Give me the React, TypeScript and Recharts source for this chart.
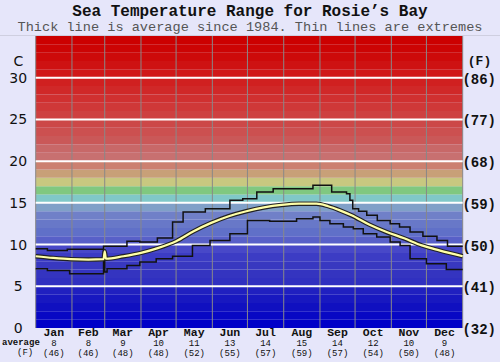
import React from "react";
import {
  ComposedChart,
  Line,
  XAxis,
  YAxis,
  ReferenceArea,
  ReferenceLine,
} from "recharts";

// ---- data ----
const monthNames = ["Jan", "Feb", "Mar", "Apr", "May", "Jun", "Jul", "Aug", "Sep", "Oct", "Nov", "Dec"];
const monthAvgC = [8, 8, 9, 10, 11, 13, 14, 15, 14, 12, 10, 9];
const monthAvgF = [46, 46, 48, 48, 52, 55, 57, 59, 57, 54, 50, 48];
const monthStartDay = [0, 31, 59, 90, 120, 151, 181, 212, 243, 273, 304, 334, 365];
const monthMidDay = [15.5, 45, 74.5, 105, 135.5, 166, 196.5, 227.5, 258, 288.5, 319, 349.5];

const yTicksC = [0, 5, 10, 15, 20, 25, 30];

const avgDay = [0, 15, 30, 45, 58, 59, 60, 75, 90, 105, 120, 135, 150, 165, 180, 195, 210, 225, 240, 250, 260, 270, 285, 300, 315, 330, 345, 365];
const avgTemp = [8.6, 8.4, 8.25, 8.2, 8.25, 9.2, 8.3, 8.6, 9.0, 9.6, 10.4, 11.6, 12.6, 13.4, 14.0, 14.45, 14.75, 14.9, 14.9, 14.6, 14.1, 13.5, 12.4, 11.5, 10.75, 9.9, 9.3, 8.6];

const maxDay = [0, 10, 27, 58, 78, 89, 104, 117, 126, 145, 166, 177, 189, 203, 237, 253, 265.7, 268.6, 271, 276, 283, 292, 303, 311, 320, 331, 343, 352, 365];
const maxTemp = [9.5, 9.3, 9.45, 9.8, 10.4, 10.3, 10.8, 12.7, 13.9, 14.3, 15.3, 15.5, 16.3, 16.7, 17.1, 16.3, 16.1, 15.3, 14.3, 14.0, 13.5, 12.9, 12.5, 12.1, 11.5, 11.0, 10.5, 9.8, 9.8];

const minDay = [0, 10, 29, 58, 59, 61, 78, 89, 103, 117, 134, 149, 166, 181, 200, 223, 237, 243, 251.5, 263, 271.5, 280, 291.5, 303, 311.5, 320, 334, 351, 365];
const minTemp = [7.1, 6.9, 6.5, 9.2, 6.7, 7.1, 7.5, 7.9, 8.3, 8.6, 9.9, 10.5, 11.3, 12.9, 12.8, 13.1, 13.3, 12.9, 12.5, 12.1, 11.9, 11.3, 10.9, 10.3, 9.9, 8.3, 7.7, 7.0, 7.0];

// background band colours, from 0-1 C up to 34-35 C
const bandColors = [
  "#0000c8", "#0808c4", "#1010c0", "#1818c0", "#2020c0",
  "#3030c0", "#3434c0", "#3838c0", "#3c3cc4", "#4848c8",
  "#5860c8", "#6070c8", "#6878c8", "#7080c8", "#80a0c8",
  "#80c8c8", "#80c880", "#c8c880", "#c8a078", "#cc8070",
  "#c87070", "#c86868", "#ca5858", "#cc5050", "#cc4848",
  "#ce4040", "#cf3838", "#d03030", "#d02828", "#d02020",
  "#d01818", "#ce1212", "#cd0a0a", "#cc0404", "#cc0000",
];

const avgData = avgDay.map((d, i) => ({ d, t: avgTemp[i] }));
const maxData = maxDay.map((d, i) => ({ d, t: maxTemp[i] }));
const minData = minDay.map((d, i) => ({ d, t: minTemp[i] }));

const MONO = "'Liberation Mono', 'Courier New', monospace";
const SANS = "'DejaVu Sans', Verdana, sans-serif";

const MonthTick = (props: any) => {
  const { x, y, payload } = props;
  const i = monthMidDay.indexOf(payload.value);
  if (i < 0) return null;
  return (
    <g>
      <text x={x} y={y + 8} textAnchor="middle" fontFamily={MONO} fontWeight="bold" fontSize={11.5} fill="#111">
        {monthNames[i]}
      </text>
      <text x={x} y={y + 18} textAnchor="middle" fontFamily={MONO} fontSize={9} fill="#111">
        {monthAvgC[i]}
      </text>
      <text x={x} y={y + 27.5} textAnchor="middle" fontFamily={MONO} fontSize={9} fill="#111">
        ({monthAvgF[i]})
      </text>
    </g>
  );
};

const LeftTick = (props: any) => {
  const { x, y, payload } = props;
  return (
    <text x={x - 17.5} y={y + 5} textAnchor="middle" fontFamily={SANS} fontSize={14} fill="#111">
      {payload.value}
    </text>
  );
};

const RightTick = (props: any) => {
  const { x, y, payload } = props;
  const f = Math.round(32 + payload.value * 1.8);
  return (
    <text x={x + 16.5} y={y + 6} textAnchor="middle" fontFamily={MONO} fontWeight="bold" fontSize={14} fill="#111">
      ({f})
    </text>
  );
};

export default function App() {
  return (
    <div style={{ position: "relative", width: 500, height: 362, background: "#e6e6fa", overflow: "hidden" }}>
      <style>{`body{margin:0;background:#e6e6fa}`}</style>
      <div style={{ position: "absolute", left: 0, top: 2, width: 500, textAlign: "center", fontFamily: MONO, fontWeight: "bold", fontSize: 16, color: "#111", lineHeight: "20px" }}>
        Sea Temperature Range for Rosie’s Bay
      </div>
      <div style={{ position: "absolute", left: 0, top: 19, width: 500, textAlign: "center", fontFamily: MONO, fontSize: 13.6, color: "#555", lineHeight: "18px", whiteSpace: "nowrap" }}>
        Thick line is average since 1984. Thin lines are extremes
      </div>
      <div style={{ position: "absolute", left: 0, top: 35, width: 500, height: 1, background: "#cfcfe0" }} />
      <div style={{ position: "absolute", left: 0, top: 52, width: 37, textAlign: "center", fontFamily: SANS, fontSize: 14, color: "#111", lineHeight: "18px" }}>
        C
      </div>
      <div style={{ position: "absolute", left: 463, top: 53, width: 33, textAlign: "center", fontFamily: MONO, fontWeight: "bold", fontSize: 13, color: "#111", lineHeight: "18px" }}>
        (F)
      </div>
      <div style={{ position: "absolute", left: 2, top: 338, fontFamily: MONO, fontWeight: "bold", fontSize: 9, color: "#111", lineHeight: "10px" }}>
        average
      </div>
      <div style={{ position: "absolute", left: 17, top: 348, fontFamily: MONO, fontSize: 9, color: "#111", lineHeight: "10px" }}>
        (F)
      </div>
      <div style={{ position: "absolute", left: 0, top: 0 }}>
        <ComposedChart width={500} height={362} margin={{ top: 36, right: 0, bottom: 0, left: 0 }}>
          <XAxis
            dataKey="d"
            type="number"
            domain={[0, 365]}
            ticks={monthMidDay}
            interval={0}
            height={34}
            axisLine={false}
            tickLine={false}
            tickSize={0}
            tickMargin={0}
            tick={<MonthTick />}
            allowDuplicatedCategory={false}
          />
          <YAxis
            yAxisId="l"
            type="number"
            domain={[0, 35]}
            ticks={yTicksC}
            interval={0}
            width={35.7}
            axisLine={false}
            tickLine={false}
            tickSize={0}
            tickMargin={0}
            tick={<LeftTick />}
          />
          <YAxis
            yAxisId="r"
            orientation="right"
            type="number"
            domain={[0, 35]}
            ticks={yTicksC}
            interval={0}
            width={37.3}
            axisLine={false}
            tickLine={false}
            tickSize={0}
            tickMargin={0}
            tick={<RightTick />}
          />
          {bandColors.map((c, i) => (
            <ReferenceArea key={"b" + i} yAxisId="l" y1={i} y2={i + 1} fill={c} fillOpacity={1} stroke="none" />
          ))}
          {monthStartDay.map((d) => (
            <ReferenceLine key={"v" + d} yAxisId="l" x={d} stroke="#888888" strokeWidth={1} />
          ))}
          {yTicksC.filter((v) => v > 0).map((v) => (
            <ReferenceLine key={"h" + v} yAxisId="l" y={v} stroke="#ffffff" strokeWidth={2} />
          ))}
          <Line yAxisId="r" data={avgData} dataKey="t" type="monotone" stroke="none" strokeWidth={0} dot={false} isAnimationActive={false} />
          <Line yAxisId="l" data={maxData} dataKey="t" type="stepAfter" stroke="#111" strokeWidth={1.5} dot={false} isAnimationActive={false} />
          <Line yAxisId="l" data={minData} dataKey="t" type="stepAfter" stroke="#111" strokeWidth={1.5} dot={false} isAnimationActive={false} />
          <Line yAxisId="l" data={avgData} dataKey="t" type="monotone" stroke="#222" strokeWidth={4.5} dot={false} isAnimationActive={false} />
          <Line yAxisId="l" data={avgData} dataKey="t" type="monotone" stroke="#ffffa8" strokeWidth={2.2} dot={false} isAnimationActive={false} />
        </ComposedChart>
      </div>
    </div>
  );
}
